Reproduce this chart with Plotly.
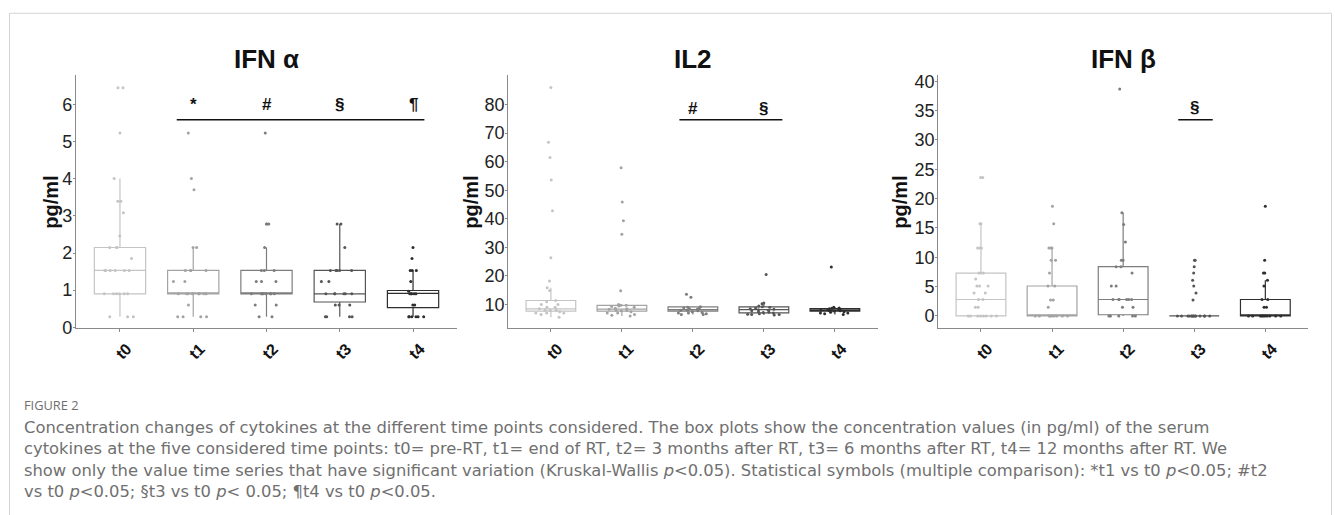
import plotly.graph_objects as go

W, H = 1335, 515

times = ["t0", "t1", "t2", "t3", "t4"]

# ---------------- IFN alpha (pg/ml) ----------------
ifna_t0 = [6.46, 6.46, 5.24, 4.01, 3.40, 3.40, 3.09, 2.46, 2.15, 2.15, 2.15, 1.85,
           1.53, 1.53, 1.53, 1.53, 1.53, 1.53, 0.90, 0.90, 0.90, 0.90, 0.90, 0.90,
           0.28, 0.28, 0.28]
ifna_t1 = [5.24, 4.01, 3.71, 2.15, 2.15, 1.53, 1.53, 1.53, 1.53, 1.23, 1.23,
           0.90, 0.90, 0.90, 0.90, 0.90, 0.90, 0.90, 0.90, 0.60, 0.28, 0.28, 0.28, 0.28]
ifna_t2 = [5.24, 2.78, 2.78, 2.78, 2.15, 1.53, 1.53, 1.53, 1.23, 1.23, 1.23,
           0.90, 0.90, 0.90, 0.90, 0.90, 0.90, 0.90, 0.90, 0.60, 0.60, 0.28, 0.28]
ifna_t3 = [2.78, 2.78, 2.15, 1.53, 1.53, 1.53, 1.53, 1.53, 1.23, 1.23,
           0.90, 0.90, 0.90, 0.90, 0.90, 0.90, 0.60, 0.60, 0.60, 0.28, 0.28, 0.28, 0.28]
ifna_t4 = [2.15, 1.85, 1.53, 1.53, 1.53, 1.23, 0.97, 0.90, 0.90, 0.90, 0.90, 0.90,
           0.60, 0.60, 0.28, 0.28, 0.28, 0.28, 0.28, 0.28]
ifna_q1 = [0.90, 0.90, 0.90, 0.68, 0.53]
ifna_med = [1.53, 0.90, 0.90, 0.90, 0.91]
ifna_q3 = [2.15, 1.53, 1.53, 1.53, 0.99]
ifna_lo = [0.28, 0.28, 0.28, 0.28, 0.28]
ifna_hi = [4.01, 2.15, 2.15, 2.78, 1.53]

# ---------------- IL2 (pg/ml) ----------------
il2_t0 = [86.0, 66.8, 61.5, 53.6, 42.8, 26.4, 18.2, 15.9, 14.9, 11.4, 11.0, 10.0, 10.0,
          9.0, 9.0, 8.5, 8.0, 8.0, 8.0, 7.5, 7.0, 7.0, 7.0, 6.5, 5.5]
il2_t1 = [57.9, 45.9, 39.3, 34.6, 14.8, 10.0, 9.7, 9.7, 9.5, 9.3, 9.0, 8.7, 8.5, 8.3,
          8.0, 8.0, 7.8, 7.5, 7.0, 7.0, 6.5, 6.2, 6.0]
il2_t2 = [13.6, 12.5, 9.2, 9.0, 8.8, 8.7, 8.5, 8.3, 8.0, 8.0, 7.8, 7.5, 7.2, 7.0, 7.0,
          6.8, 6.5, 6.5]
il2_t3 = [20.5, 10.5, 10.3, 9.5, 9.2, 9.0, 8.8, 8.5, 8.3, 8.2, 8.0, 7.8, 7.5, 7.3, 7.2,
          7.0, 6.8, 6.6, 6.5, 6.5, 6.3]
il2_t4 = [23.1, 9.0, 8.8, 8.7, 8.5, 8.5, 8.3, 8.2, 8.0, 7.9, 7.8, 7.7, 7.5, 7.3, 7.0,
          7.0, 6.8, 6.5]
il2_q1 = [7.7, 7.7, 7.7, 7.1, 7.7]
il2_med = [8.5, 8.4, 8.2, 8.2, 8.1]
il2_q3 = [11.4, 9.7, 9.2, 9.2, 8.6]
il2_lo = [5.5, 6.0, 6.5, 6.3, 6.5]
il2_hi = [15.9, 10.0, 9.2, 10.5, 9.0]

# ---------------- IFN beta (pg/ml) ----------------
ifnb_t0 = [23.6, 23.6, 15.7, 15.7, 11.6, 11.6, 11.6, 7.3, 7.3, 7.3, 6.3, 5.1, 5.1, 5.1,
           3.9, 3.9, 2.8, 2.8, 1.5, 1.5, 0.0, 0.0, 0.0, 0.0, 0.0, 0.0, 0.0, 0.0]
ifnb_t1 = [18.7, 15.7, 11.6, 11.6, 11.6, 9.5, 9.5, 7.3, 5.1, 5.1, 2.7, 2.7, 1.5,
           0.0, 0.0, 0.0, 0.0, 0.0, 0.0, 0.0, 0.0, 0.0]
ifnb_t2 = [38.7, 17.6, 15.6, 12.6, 9.5, 9.5, 8.4, 8.4, 7.3, 5.1, 5.1, 2.8, 2.8, 2.8,
           2.8, 2.8, 2.8, 1.5, 1.5, 0.0, 0.0, 0.0, 0.0, 0.0]
ifnb_t3 = [9.5, 9.5, 8.4, 7.3, 6.1, 5.1, 3.9, 2.7, 0.0, 0.0, 0.0, 0.0, 0.0, 0.0, 0.0,
           0.0, 0.0, 0.0, 0.0, 0.0, 0.0, 0.0]
ifnb_t4 = [18.7, 9.5, 7.3, 7.3, 6.1, 5.1, 2.8, 2.8, 1.5, 1.5, 0.0, 0.0, 0.0, 0.0, 0.0,
           0.0, 0.0, 0.0, 0.0, 0.0]
ifnb_q1 = [0.0, 0.0, 0.2, 0.0, 0.0]
ifnb_med = [2.8, 0.2, 2.8, 0.0, 0.2]
ifnb_q3 = [7.3, 5.1, 8.4, 0.0, 2.8]
ifnb_lo = [0.0, 0.0, 0.0, 0.0, 0.0]
ifnb_hi = [15.7, 11.6, 17.6, 0.0, 6.1]

panel_titles = ["IFN α", "IL2", "IFN β"]
y_title = "pg/ml"
y_ticks = [[0, 1, 2, 3, 4, 5, 6],
           [10, 20, 30, 40, 50, 60, 70, 80],
           [0, 5, 10, 15, 20, 25, 30, 35, 40]]
y_ranges = [[-0.03, 6.79], [1.67, 90.2], [-2.11, 41.0]]

sig_symbols = [["*", "#", "§", "¶"], ["#", "§"], ["§"]]
sig_times = [["t1", "t2", "t3", "t4"], ["t2", "t3"], ["t3"]]
sig_text_y = [6.0, 78.8, 35.45]
sig_line_y = [5.595, 74.7, 33.45]
sig_line_x = [[0.775, 4.155], [1.81, 3.26], [2.775, 3.26]]

caption_label = "FIGURE 2"
caption_lines = [
    "Concentration changes of cytokines at the different time points considered. The box plots show the concentration values (in pg/ml) of the serum",
    "cytokines at the five considered time points: t0= pre-RT, t1= end of RT, t2= 3 months after RT, t3= 6 months after RT, t4= 12 months after RT. We",
    "show only the value time series that have significant variation (Kruskal-Wallis <i>p</i>&lt;0.05). Statistical symbols (multiple comparison): *t1 vs t0 <i>p</i>&lt;0.05; #t2",
    "vs t0 <i>p</i>&lt;0.05; §t3 vs t0 <i>p</i>&lt; 0.05; ¶t4 vs t0 <i>p</i>&lt;0.05.",
]

panels = [
    dict(pts=[ifna_t0, ifna_t1, ifna_t2, ifna_t3, ifna_t4], q1=ifna_q1, med=ifna_med,
         q3=ifna_q3, lo=ifna_lo, hi=ifna_hi),
    dict(pts=[il2_t0, il2_t1, il2_t2, il2_t3, il2_t4], q1=il2_q1, med=il2_med,
         q3=il2_q3, lo=il2_lo, hi=il2_hi),
    dict(pts=[ifnb_t0, ifnb_t1, ifnb_t2, ifnb_t3, ifnb_t4], q1=ifnb_q1, med=ifnb_med,
         q3=ifnb_q3, lo=ifnb_lo, hi=ifnb_hi),
]

# ---------------- styling ----------------
grey_scale = ["#c4c4c4", "#a3a3a3", "#7d7d7d", "#555555", "#2e2e2e"]
axis_col = "#8a8a8a"
x_dom_px = [(76, 457), (508.3, 877.5), (938.3, 1308)]
y_dom_px = (73.3, 332.7)
ytitle_x_px = [51.5, 471.5, 900.5]
ytitle_y_px = 203.3

fig = go.Figure()

for k, panel in enumerate(panels):
    sfx = "" if k == 0 else str(k + 1)
    for i, t in enumerate(times):
        c = grey_scale[i]
        fig.add_trace(go.Box(
            x=[t], y=[panel["pts"][i]],
            q1=[panel["q1"][i]], median=[panel["med"][i]], q3=[panel["q3"][i]],
            lowerfence=[panel["lo"][i]], upperfence=[panel["hi"][i]],
            boxpoints="all", jitter=0.8, pointpos=0, width=0.7, whiskerwidth=0,
            line=dict(color=c, width=1.2), fillcolor="rgba(255,255,255,0)",
            marker=dict(color=c, size=3),
            xaxis="x" + sfx, yaxis="y" + sfx, showlegend=False,
        ))

    x0, x1 = x_dom_px[k]
    fig.layout["xaxis" + sfx] = dict(
        domain=[x0 / W, x1 / W], anchor="y" + sfx, type="category",
        categoryorder="array", categoryarray=times, range=[-0.6, 4.6],
        showline=True, linecolor=axis_col, linewidth=1.3,
        ticks="outside", ticklen=3, tickcolor=axis_col, tickwidth=1,
        tickangle=-45, ticklabelshift=7, ticklabelstandoff=1,
        tickfont=dict(family="Liberation Sans", size=16, color="#111111", weight="bold"),
        showgrid=False, zeroline=False, fixedrange=True,
    )
    fig.layout["yaxis" + sfx] = dict(
        domain=[1 - y_dom_px[1] / H, 1 - y_dom_px[0] / H], anchor="x" + sfx,
        range=y_ranges[k], tickmode="array", tickvals=y_ticks[k],
        showline=True, linecolor=axis_col, linewidth=1.3,
        ticks="outside", ticklen=2, tickcolor=axis_col, tickwidth=1,
        ticklabelstandoff=-3,
        tickfont=dict(family="Liberation Sans", size=18, color="#222222"),
        showgrid=False, zeroline=False, fixedrange=True,
    )

    # y axis title
    fig.add_annotation(
        text=y_title, xref="paper", yref="paper", textangle=-90, borderpad=0,
        x=ytitle_x_px[k] / W, y=1 - ytitle_y_px / H, xanchor="center", yanchor="middle",
        showarrow=False,
        font=dict(family="Liberation Sans", size=20, color="#111111", weight="bold"),
    )

    # panel title
    fig.add_annotation(
        text=panel_titles[k], xref="paper", yref="paper",
        x=(x0 + x1) / 2 / W, y=1 - 56.7 / H, xanchor="center", yanchor="middle",
        showarrow=False,
        font=dict(family="Liberation Sans", size=26, color="#111111", weight="bold"),
    )

    # significance markers
    for sym, tt in zip(sig_symbols[k], sig_times[k]):
        fig.add_annotation(
            text=sym, x=tt, y=sig_text_y[k], xref="x" + sfx, yref="y" + sfx,
            showarrow=False, xanchor="center", yanchor="middle",
            font=dict(family="Liberation Sans", size=17, color="#111111", weight="bold"),
        )
    fig.add_shape(
        type="line", xref="x" + sfx, yref="y" + sfx,
        x0=sig_line_x[k][0], x1=sig_line_x[k][1], y0=sig_line_y[k], y1=sig_line_y[k],
        line=dict(color="#111111", width=1.5),
    )

# caption
fig.add_annotation(
    text=caption_label, xref="paper", yref="paper", x=22 / W, y=1 - 411 / H,
    xanchor="left", yanchor="middle", showarrow=False,
    font=dict(family="Open Sans", size=12.8, color="#6e6e6e"),
)
fig.add_annotation(
    text="<br>".join(caption_lines), xref="paper", yref="paper", x=22 / W, y=1 - 467 / H,
    xanchor="left", yanchor="middle", align="left", showarrow=False,
    font=dict(family="DejaVu Sans", size=16.35, color="#707070"),
)

# outer frame
fig.add_shape(type="rect", xref="paper", yref="paper",
              x0=9.5 / W, x1=1331.5 / W, y0=-0.2, y1=1 - 9.5 / H,
              line=dict(color="#d4d4d4", width=1), fillcolor="rgba(0,0,0,0)", layer="below")

fig.update_layout(
    width=W, height=H, margin=dict(l=0, r=0, t=0, b=0),
    paper_bgcolor="white", plot_bgcolor="white", boxmode="overlay",
    font=dict(family="Liberation Sans"),
)

fig.write_html("out.html")
